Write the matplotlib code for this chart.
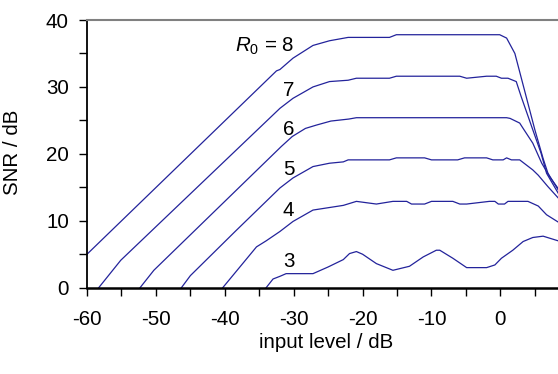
import matplotlib
matplotlib.use("Agg")
import matplotlib.pyplot as plt
from matplotlib.ticker import MultipleLocator

plt.rcParams['font.family'] = ['Liberation Sans', 'DejaVu Sans']
plt.rcParams['mathtext.fontset'] = 'custom'
plt.rcParams['mathtext.rm'] = 'Liberation Sans'
plt.rcParams['mathtext.it'] = 'Liberation Sans:italic'

# ---- data (input level dB, SNR dB) ----
x8 = [-60, -32.5, -32.0, -30.1, -27.2, -24.8, -22.1, -16.1, -15.1, -0.1, 0.9, 2.1, 5.0, 6.2, 6.9, 8.4]
y8 = [5.0, 32.4, 32.6, 34.3, 36.2, 36.9, 37.4, 37.4, 37.8, 37.8, 37.3, 35.0, 23.6, 19.3, 17.1, 14.6]

x7 = [-58.3, -55.1, -32.0, -30.1, -27.2, -24.8, -22.1, -20.9, -16.1, -15.1, -5.9, -4.9, -2.0, -0.6, 0.15, 1.1, 2.3, 3.0, 4.7, 5.9, 6.7, 8.4]
y7 = [0, 4.1, 26.8, 28.3, 30.0, 30.8, 31.0, 31.3, 31.3, 31.6, 31.6, 31.3, 31.6, 31.6, 31.3, 31.3, 30.8, 28.6, 23.6, 20.1, 17.1, 14.1]

x6 = [-52.3, -50.3, -31.8, -30.2, -28.3, -26.7, -24.6, -22.0, -20.9, 0.9, 1.4, 2.8, 3.3, 4.7, 6.0, 7.2, 8.4]
y6 = [0, 2.6, 21.1, 22.6, 23.8, 24.3, 24.9, 25.2, 25.4, 25.4, 25.3, 24.6, 23.8, 21.6, 18.6, 16.5, 14.8]

x5 = [-46.3, -45.0, -38.5, -32.0, -30.1, -27.2, -24.8, -22.8, -22.1, -16.1, -15.1, -11.0, -10.0, -6.2, -5.2, -2.0, -1.1, 0.4, 0.9, 1.6, 2.8, 4.7, 5.5, 6.9, 8.4]
y5 = [0, 1.8, 8.4, 14.9, 16.4, 18.1, 18.6, 18.8, 19.1, 19.1, 19.4, 19.4, 19.1, 19.1, 19.4, 19.4, 19.1, 19.1, 19.4, 19.1, 19.1, 17.6, 16.8, 15.1, 13.4]

x4 = [-40.3, -35.4, -34.0, -32.0, -30.1, -27.2, -22.8, -20.9, -18.0, -15.6, -13.6, -12.9, -11.0, -10.0, -6.9, -5.9, -4.9, -1.6, -0.8, -0.3, 0.6, 1.1, 4.0, 5.5, 6.7, 8.4]
y4 = [0, 6.1, 7.0, 8.4, 9.9, 11.6, 12.3, 12.9, 12.5, 12.9, 12.9, 12.5, 12.5, 12.9, 12.9, 12.5, 12.5, 12.9, 12.9, 12.5, 12.5, 12.9, 12.9, 12.2, 10.9, 9.8]

x3 = [-34.0, -33.0, -32.0, -31.1, -27.2, -25.0, -22.8, -21.9, -20.9, -20.0, -18.0, -15.6, -13.2, -11.2, -9.3, -8.8, -6.9, -4.9, -2.0, -0.8, 0.15, 1.8, 3.3, 4.7, 6.2, 8.4]
y3 = [0, 1.3, 1.7, 2.1, 2.1, 3.1, 4.2, 5.1, 5.4, 5.0, 3.6, 2.6, 3.2, 4.6, 5.6, 5.6, 4.4, 3.0, 3.0, 3.4, 4.4, 5.6, 6.9, 7.5, 7.7, 7.0]

curve_labels = [r"$\mathit{R}_0$ = 8", "7", "6", "5", "4", "3"]
label_y = [36.0, 29.5, 23.6, 17.6, 11.6, 3.9]

xticks = [-60, -50, -40, -30, -20, -10, 0]
yticks = [0, 10, 20, 30, 40]

# ---- figure ----
fs = 14.8
fig = plt.figure(figsize=(5.58, 3.74), dpi=100)
ax = fig.add_axes([87 / 558, 1 - 287.7 / 374, 1 - 87 / 558, (287.7 - 20) / 374])

color = '#23239b'
for xs, ys in [(x8, y8), (x7, y7), (x6, y6), (x5, y5), (x4, y4), (x3, y3)]:
    ax.plot(xs, ys, color=color, lw=0.9, solid_joinstyle='round')

for lab, yl in zip(curve_labels, label_y):
    ax.text(-29.9, yl, lab, ha='right', va='center', fontsize=fs, color='black')

ax.set_xlim(-60, 8.36)
ax.set_ylim(0, 40)
ax.set_xticks(xticks)
ax.set_xticklabels([str(v) for v in xticks])
ax.set_yticks(yticks)
ax.set_yticklabels([str(v) for v in yticks])
ax.xaxis.set_minor_locator(MultipleLocator(5))
ax.yaxis.set_minor_locator(MultipleLocator(5))
ax.tick_params(axis='both', which='both', direction='out', length=5.5, width=1.0, color='black', labelsize=fs)
ax.tick_params(axis='x', which='major', pad=10.5)
ax.tick_params(axis='y', which='major', pad=7.5)

ax.spines['right'].set_visible(False)
ax.spines['top'].set_color('#808080')
ax.spines['top'].set_linewidth(1.5)
ax.spines['left'].set_linewidth(1.3)
ax.spines['bottom'].set_linewidth(1.8)
ax.spines['left'].set_color('black')
ax.spines['bottom'].set_color('black')

fig.text(12.5 / 558, 1 - 152 / 374, "SNR / dB", rotation=90, ha='center', va='center', fontsize=fs)
fig.text(326 / 558, 1 - 342 / 374, "input level / dB", ha='center', va='center', fontsize=fs)

fig.savefig("out.png", dpi=100)
